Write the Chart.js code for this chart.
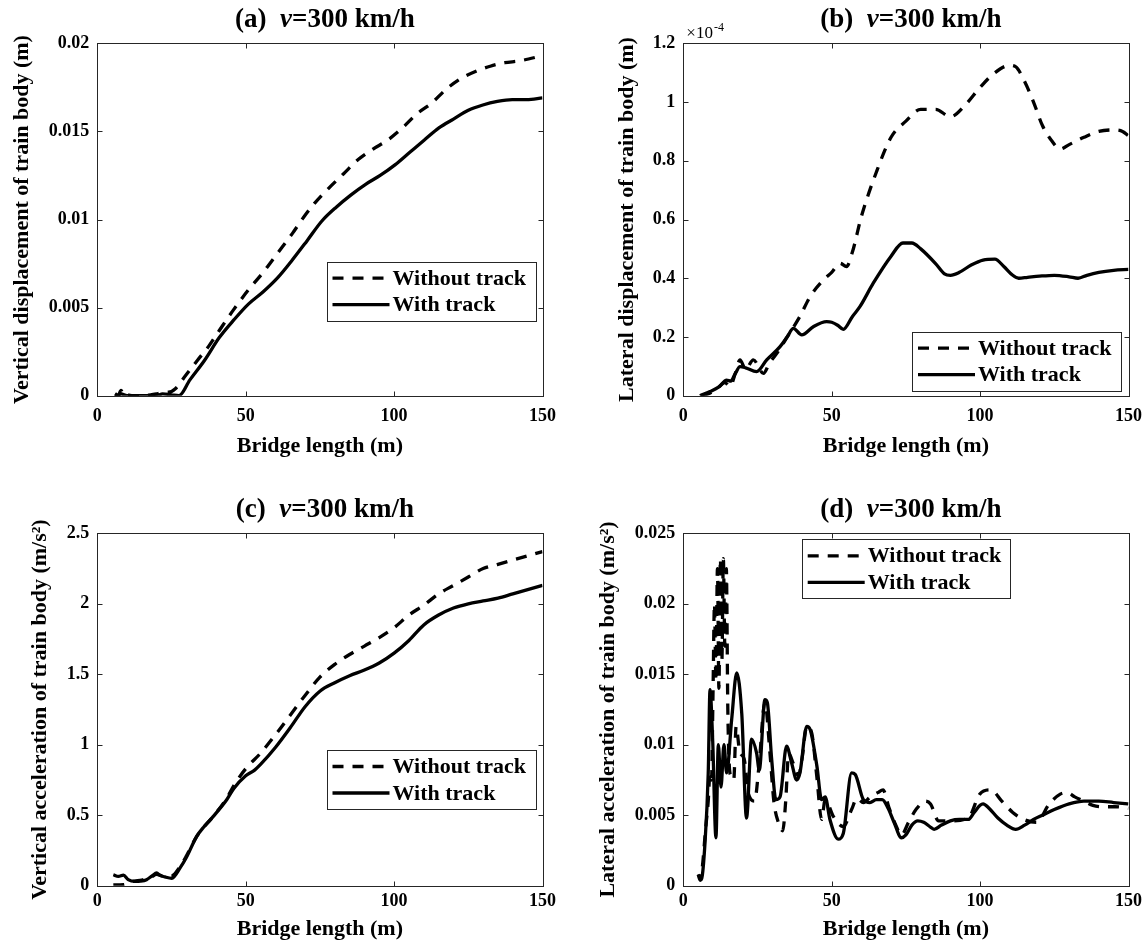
<!DOCTYPE html>
<html>
<head>
<meta charset="utf-8">
<title>Train body response vs bridge length</title>
<script src="https://cdn.jsdelivr.net/npm/chart.js@4/dist/chart.umd.min.js"></script>
<style>
  html, body { margin: 0; padding: 0; background: #fff; }
  #wrap { position: relative; width: 1148px; height: 950px; }
  canvas { position: absolute; }
</style>
</head>
<body>
<div id="wrap">
  <canvas id="chartA" width="574" height="475" style="left:0;top:0"></canvas>
  <canvas id="chartB" width="574" height="475" style="left:574px;top:0"></canvas>
  <canvas id="chartC" width="574" height="475" style="left:0;top:475px"></canvas>
  <canvas id="chartD" width="574" height="475" style="left:574px;top:475px"></canvas>
</div>
<script>
const FONT = '"Liberation Serif", "Times New Roman", serif';
const AXIS = '#262626';
Chart.defaults.font.family = FONT;

/* DATA */
const seriesNames = ['Without track', 'With track'];
const bridgeTicks = [0, 50, 100, 150];
const bridgeLabels = ['0', '50', '100', '150'];
const speedText = '=300 km/h';

// (a) vertical displacement (m)
const aNoTrackX = [6, 7, 8, 9, 10, 12, 15, 18, 20, 22, 24, 26.3, 30, 33.7, 37.5, 41.1, 46, 50.9, 55.9, 60.8, 65.7, 69.4, 73.1, 78.1, 83, 87.9, 92.9, 97.8, 102.8, 107.7, 112.6, 117.6, 122.5, 127.4, 132.4, 137.3, 142.2, 150];
const aNoTrackY = [0.0001, 0, 0.0003, 0, 0.00005, 0, 0, 0.00005, 0.0001, 0.0002, 0.0002, 0.0004, 0.0012, 0.002, 0.0028, 0.0037, 0.0049, 0.006, 0.007, 0.0081, 0.0092, 0.0101, 0.0109, 0.0118, 0.0126, 0.0134, 0.014, 0.0145, 0.0152, 0.016, 0.0166, 0.0174, 0.018, 0.0184, 0.0187, 0.0189, 0.019, 0.0193];
const aTrackX = [6, 7, 8, 10, 15, 20, 22, 25, 27.5, 31.2, 36.1, 41.1, 46, 50.9, 55.9, 60.8, 65.7, 70.7, 75.6, 80.5, 85.5, 90.4, 95.3, 100.3, 105.2, 110.1, 115.1, 120, 125, 129.9, 134.8, 139.8, 144.7, 150];
const aTrackY = [0.0001, 0, 0.0001, 0, 0, 0, 0.0001, 0.00005, 0, 0.0009, 0.002, 0.0033, 0.0043, 0.0052, 0.0059, 0.0067, 0.0077, 0.0088, 0.0099, 0.0107, 0.0114, 0.012, 0.0125, 0.0131, 0.0138, 0.0145, 0.0152, 0.0157, 0.0162, 0.0165, 0.0167, 0.0168, 0.0168, 0.0169];
const aYTicks = [0, 0.005, 0.01, 0.015, 0.02];
const aYLabels = ['0', '0.005', '0.01', '0.015', '0.02'];

// (b) lateral displacement (x10^-4 m)
const bNoTrackX = [6, 8, 10, 12, 14, 15.7, 17.5, 19.1, 21, 23.6, 27, 29, 31.5, 35, 39.3, 42.7, 47.2, 50, 52.8, 55, 57, 60, 65, 70, 75, 80, 85, 90, 95, 100, 105, 110, 112, 115, 118, 121, 124, 127, 130, 135, 140, 145, 148, 150];
const bNoTrackY = [0, 0.005, 0.015, 0.03, 0.045, 0.031, 0.075, 0.122, 0.09, 0.122, 0.076, 0.11, 0.144, 0.2, 0.27, 0.337, 0.394, 0.42, 0.451, 0.44, 0.49, 0.61, 0.76, 0.88, 0.935, 0.975, 0.975, 0.95, 0.99, 1.05, 1.1, 1.125, 1.12, 1.07, 1.0, 0.92, 0.87, 0.84, 0.855, 0.88, 0.9, 0.905, 0.9, 0.885];
const bTrackX = [5.6, 9, 12, 14.6, 16, 17.5, 19.1, 21, 24.7, 28.1, 32.6, 35, 37.1, 39.9, 43.8, 48.3, 50, 52, 53.9, 57, 59.5, 64, 70, 74, 77, 80, 85, 88, 90, 93, 97, 101, 105, 108, 111, 113, 116, 120, 125, 130, 133, 136, 140, 145, 150];
const bTrackY = [0, 0.014, 0.03, 0.053, 0.05, 0.075, 0.099, 0.095, 0.082, 0.122, 0.167, 0.2, 0.229, 0.207, 0.235, 0.252, 0.25, 0.24, 0.226, 0.27, 0.303, 0.383, 0.475, 0.52, 0.52, 0.5, 0.45, 0.415, 0.41, 0.42, 0.445, 0.462, 0.465, 0.44, 0.41, 0.4, 0.403, 0.407, 0.41, 0.405, 0.4, 0.41, 0.42, 0.427, 0.43];
const bYTicks = [0, 0.2, 0.4, 0.6, 0.8, 1, 1.2];
const bYLabels = ['0', '0.2', '0.4', '0.6', '0.8', '1', '1.2'];

// (c) vertical acceleration (m/s^2)
const cNoTrackX = [5.4, 8.8, 12, 15, 18, 20, 22, 25, 28, 30, 33.5, 39, 43.6, 46, 50, 55, 60, 65, 70, 75, 80, 85, 90, 95, 100, 105, 110, 115, 120, 125, 130, 135, 140, 145, 150];
const cNoTrackY = [0.005, 0.007, 0.03, 0.04, 0.06, 0.08, 0.07, 0.07, 0.14, 0.21, 0.35, 0.49, 0.62, 0.71, 0.83, 0.94, 1.07, 1.21, 1.35, 1.48, 1.57, 1.64, 1.7, 1.76, 1.83, 1.92, 1.99, 2.07, 2.13, 2.19, 2.25, 2.28, 2.31, 2.34, 2.37];
const cTrackX = [5.4, 7.1, 8.8, 10.4, 12.7, 14.5, 16.6, 18.5, 20, 21, 22.8, 25.1, 28, 30, 33.5, 36, 39, 43.6, 46, 50, 53, 55, 60, 65, 70, 75, 80, 85, 90, 95, 100, 105, 110, 115, 120, 125, 130, 135, 140, 145, 150];
const cTrackY = [0.078, 0.066, 0.075, 0.043, 0.03, 0.032, 0.043, 0.07, 0.09, 0.075, 0.062, 0.052, 0.13, 0.2, 0.35, 0.42, 0.49, 0.61, 0.69, 0.78, 0.82, 0.86, 0.98, 1.12, 1.27, 1.38, 1.44, 1.49, 1.53, 1.58, 1.65, 1.74, 1.85, 1.92, 1.97, 2.0, 2.02, 2.04, 2.07, 2.1, 2.13];
const cYTicks = [0, 0.5, 1, 1.5, 2, 2.5];
const cYLabels = ['0', '0.5', '1', '1.5', '2', '2.5'];

// (d) lateral acceleration (m/s^2)
const dNoTrackX = [5, 5.7, 6.5, 7.5, 8.4, 9, 9.5, 10, 10.5, 11, 11.5, 12, 12.5, 13, 13.5, 14, 14.5, 15, 15.5, 16, 17, 17.8, 19, 20.5, 22, 24, 25.5, 27.5, 29.2, 30.5, 32, 33.5, 34.5, 35.5, 37, 38.8, 40, 41.6, 43.3, 45, 46.6, 47.8, 50.6, 53.9, 56.7, 58.5, 60.7, 63, 65.5, 67.3, 69.2, 71.6, 73.5, 75.9, 78.4, 81.5, 83.3, 86, 90, 96, 99.9, 103.6, 107.3, 111, 114.7, 119, 123.3, 127, 129.4, 131.9, 135, 138, 141.8, 145.4, 150];
const dNoTrackY = [0.0008, 0.0004, 0.0015, 0.004, 0.006, 0.008, 0.0075, 0.0135, 0.02, 0.0145, 0.0225, 0.014, 0.0232, 0.016, 0.0232, 0.017, 0.0225, 0.0125, 0.0085, 0.0078, 0.0075, 0.0113, 0.0095, 0.009, 0.0065, 0.006, 0.0085, 0.013, 0.0094, 0.006, 0.0045, 0.0039, 0.006, 0.0094, 0.0087, 0.0078, 0.009, 0.0113, 0.0108, 0.0077, 0.0047, 0.0061, 0.0049, 0.0042, 0.0054, 0.0062, 0.0059, 0.0063, 0.0066, 0.0068, 0.0056, 0.0043, 0.0036, 0.0045, 0.0054, 0.006, 0.0058, 0.0046, 0.0046, 0.0048, 0.0065, 0.0068, 0.006, 0.0052, 0.0047, 0.0045, 0.0058, 0.0065, 0.0066, 0.0063, 0.006, 0.0057, 0.0056, 0.0056, 0.0055];
const dTrackX = [5.4, 5.8, 6.2, 7.3, 8.4, 9, 9.9, 11, 11.8, 12.7, 13.7, 14.6, 16.3, 18, 19.7, 21.3, 23, 24.7, 25.6, 27.5, 28.3, 29.8, 31.2, 32.6, 34.8, 36.5, 38.2, 39.3, 41.6, 42.7, 45, 46.6, 47.8, 49.4, 52.2, 53.9, 56.7, 57.9, 60.7, 62.9, 65, 67, 69, 71, 73.5, 75, 77, 79, 81, 83, 84.5, 87, 90, 93, 96, 98, 100, 101, 103, 106, 109, 112, 115, 118, 121, 125, 130, 135, 140, 145, 150];
const dTrackY = [0.0008, 0.0004, 0.0005, 0.003, 0.008, 0.0139, 0.0103, 0.0034, 0.01, 0.007, 0.01, 0.008, 0.0118, 0.0151, 0.0122, 0.0048, 0.0104, 0.0094, 0.0082, 0.0132, 0.013, 0.0089, 0.0061, 0.0063, 0.0099, 0.0087, 0.0075, 0.008, 0.0113, 0.0111, 0.0085, 0.0061, 0.0063, 0.0047, 0.0033, 0.0037, 0.008, 0.0079, 0.0061, 0.0059, 0.0061, 0.0061, 0.0055, 0.0045, 0.0034, 0.0036, 0.0043, 0.0046, 0.0045, 0.0042, 0.004, 0.0043, 0.0046, 0.0047, 0.0047, 0.0052, 0.0057, 0.0058, 0.0055, 0.0048, 0.0043, 0.004, 0.0043, 0.0047, 0.005, 0.0054, 0.0058, 0.006, 0.006, 0.0059, 0.0058];
const dYTicks = [0, 0.005, 0.01, 0.015, 0.02, 0.025];
const dYLabels = ['0', '0.005', '0.01', '0.015', '0.02', '0.025'];

/* PANELS */
const panels = [
  {
    id: 'chartA', tag: '(a)',
    noX: aNoTrackX, noY: aNoTrackY, wX: aTrackX, wY: aTrackY,
    yTicks: aYTicks, yLabels: aYLabels,
    yTitle: 'Vertical displacement of train body (m)',
    pad: { top: 43.3, right: 31.5 }, yWidth: 97.3, xHeight: 79.3,
    yTitlePad: 9, xTickPad: 10, xTitlePad: 15.8,
    legend: { left: 326.5, top: 261.7, width: 209, height: 58.5 },
  },
  {
    id: 'chartB', tag: '(b)',
    noX: bNoTrackX, noY: bNoTrackY, wX: bTrackX, wY: bTrackY,
    yTicks: bYTicks, yLabels: bYLabels,
    yTitle: 'Lateral displacement of train body (m)',
    pad: { top: 43.3, right: 19.5 }, yWidth: 109.3, xHeight: 79.3,
    yTitlePad: 40, xTickPad: 10, xTitlePad: 15.8,
    legend: { left: 338, top: 331.7, width: 209, height: 58.5 },
    exponent: ['\u00d710', '-4'],
  },
  {
    id: 'chartC', tag: '(c)',
    noX: cNoTrackX, noY: cNoTrackY, wX: cTrackX, wY: cTrackY,
    yTicks: cYTicks, yLabels: cYLabels,
    yTitle: 'Vertical acceleration of train body (m/s\u00b2)',
    pad: { top: 58.3, right: 31.5 }, yWidth: 97.3, xHeight: 64.3,
    yTitlePad: 27, xTickPad: 5, xTitlePad: 7.8,
    legend: { left: 326.5, top: 275, width: 209, height: 59 },
  },
  {
    id: 'chartD', tag: '(d)',
    noX: dNoTrackX, noY: dNoTrackY, wX: dTrackX, wY: dTrackY,
    yTicks: dYTicks, yLabels: dYLabels,
    yTitle: 'Lateral acceleration of train body (m/s\u00b2)',
    pad: { top: 58.3, right: 19.5 }, yWidth: 109.3, xHeight: 64.3,
    yTitlePad: 21, xTickPad: 5, xTitlePad: 7.8,
    legend: { left: 227.7, top: 64.3, width: 208, height: 59 },
  },
];

/* FRAME, TITLE, LEGEND PLUGIN */
const framePlugin = {
  id: 'frame',
  afterDatasetsDraw(chart, args, opts) {
    const { ctx, chartArea: a, scales: { x, y } } = chart;
    ctx.save();

    // box + inward ticks on all four sides
    ctx.strokeStyle = AXIS;
    ctx.lineWidth = 1;
    const L = Math.round(a.left) + 0.5, R = Math.round(a.right) + 0.5;
    const T = Math.round(a.top) + 0.5, B = Math.round(a.bottom) + 0.5;
    ctx.strokeRect(L, T, R - L, B - T);
    const tl = 5;
    ctx.beginPath();
    x.ticks.forEach(t => {
      const px = Math.round(x.getPixelForValue(t.value)) + 0.5;
      ctx.moveTo(px, B); ctx.lineTo(px, B - tl);
      ctx.moveTo(px, T); ctx.lineTo(px, T + tl);
    });
    y.ticks.forEach(t => {
      const py = Math.round(y.getPixelForValue(t.value)) + 0.5;
      ctx.moveTo(L, py); ctx.lineTo(L + tl, py);
      ctx.moveTo(R, py); ctx.lineTo(R - tl, py);
    });
    ctx.stroke();

    // title: "(x)  v=300 km/h" with italic v
    const parts = [
      { t: opts.tag + '  ', f: 'bold 27px ' + FONT },
      { t: 'v', f: 'italic bold 27px ' + FONT },
      { t: speedText, f: 'bold 27px ' + FONT },
    ];
    let total = 0;
    parts.forEach(p => { ctx.font = p.f; p.w = ctx.measureText(p.t).width; total += p.w; });
    let tx = (a.left + a.right) / 2 + 5 - total / 2;
    const ty = a.top - 16.6;
    ctx.fillStyle = '#000';
    ctx.textBaseline = 'alphabetic';
    ctx.textAlign = 'left';
    parts.forEach(p => { ctx.font = p.f; ctx.fillText(p.t, tx, ty); tx += p.w; });

    // exponent label
    if (opts.exponent) {
      ctx.font = '17px ' + FONT;
      const ex = a.left + 3;
      ctx.fillText(opts.exponent[0], ex, a.top - 5);
      const w = ctx.measureText(opts.exponent[0]).width;
      ctx.font = '12px ' + FONT;
      ctx.fillText(opts.exponent[1], ex + w + 1, a.top - 12);
    }

    // legend
    const lg = opts.legend;
    ctx.fillStyle = '#fff';
    ctx.fillRect(lg.left, lg.top, lg.width, lg.height);
    ctx.strokeStyle = AXIS;
    ctx.lineWidth = 1;
    ctx.strokeRect(Math.round(lg.left) + 0.5, Math.round(lg.top) + 0.5, Math.round(lg.width), Math.round(lg.height));
    ctx.font = 'bold 22px ' + FONT;
    ctx.textBaseline = 'middle';
    const rows = [16.5, 43];
    chart.data.datasets.forEach((ds, i) => {
      const cy = lg.top + rows[i];
      ctx.save();
      ctx.strokeStyle = ds.borderColor;
      ctx.lineWidth = ds.borderWidth;
      ctx.setLineDash(ds.borderDash || []);
      ctx.beginPath();
      ctx.moveTo(lg.left + 6, cy);
      ctx.lineTo(lg.left + 63, cy);
      ctx.stroke();
      ctx.restore();
      ctx.fillStyle = '#000';
      ctx.fillText(ds.label, lg.left + 66, cy + 1);
    });

    ctx.restore();
  },
};

function toPoints(xs, ys) {
  return xs.map((v, i) => ({ x: v, y: ys[i] }));
}

function makePanel(p) {
  const tickFont = { family: FONT, size: 18, weight: 'bold' };
  const titleFont = { family: FONT, size: 22, weight: 'bold' };
  return new Chart(document.getElementById(p.id), {
    type: 'line',
    data: {
      datasets: [
        {
          label: seriesNames[0],
          data: toPoints(p.noX, p.noY),
          borderColor: '#000',
          borderWidth: 3.3,
          borderDash: [11, 9],
          pointRadius: 0,
          cubicInterpolationMode: 'monotone',
          order: 2,
        },
        {
          label: seriesNames[1],
          data: toPoints(p.wX, p.wY),
          borderColor: '#000',
          borderWidth: 3.3,
          pointRadius: 0,
          cubicInterpolationMode: 'monotone',
          order: 1,
        },
      ],
    },
    options: {
      responsive: false,
      animation: false,
      devicePixelRatio: 1,
      layout: { padding: { left: 0, top: p.pad.top, right: p.pad.right, bottom: 0 } },
      plugins: {
        legend: { display: false },
        tooltip: { enabled: false },
        frame: { tag: p.tag, legend: p.legend, exponent: p.exponent },
      },
      scales: {
        x: {
          type: 'linear',
          min: bridgeTicks[0],
          max: bridgeTicks[bridgeTicks.length - 1],
          afterBuildTicks: s => { s.ticks = bridgeTicks.map(v => ({ value: v })); },
          // fixed box height; edge labels must not shrink the plot area
          afterFit: s => { s.height = p.xHeight; s.paddingLeft = 0; s.paddingRight = 0; },
          grid: { display: false, drawTicks: false },
          border: { display: false },
          ticks: {
            font: tickFont, color: '#000', padding: p.xTickPad, maxRotation: 0,
            callback: (v, i) => bridgeLabels[i],
          },
          title: {
            display: true, text: 'Bridge length (m)', color: '#000', font: titleFont,
            padding: { top: 0, bottom: p.xTitlePad },
          },
        },
        y: {
          type: 'linear',
          min: p.yTicks[0],
          max: p.yTicks[p.yTicks.length - 1],
          afterBuildTicks: s => { s.ticks = p.yTicks.map(v => ({ value: v })); },
          afterFit: s => { s.width = p.yWidth; },
          grid: { display: false, drawTicks: false },
          border: { display: false },
          ticks: {
            font: tickFont, color: '#000', padding: 8,
            callback: (v, i) => p.yLabels[i],
          },
          title: {
            display: true, text: p.yTitle, color: '#000', font: titleFont,
            padding: { top: p.yTitlePad, bottom: 0 },
          },
        },
      },
    },
    plugins: [framePlugin],
  });
}

panels.forEach(makePanel);
</script>
</body>
</html>
